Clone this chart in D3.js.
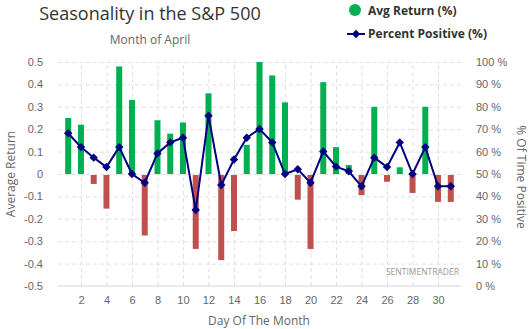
<!DOCTYPE html>
<html>
<head>
<meta charset="utf-8">
<script src="https://cdn.jsdelivr.net/npm/d3@7/dist/d3.min.js"></script>
<style>
  body { margin: 0; background: #fff; font-family: "Open Sans", sans-serif; }
  .grid line { stroke: #e0e0e0; stroke-dasharray: 4,3; }
  .grid path { display: none; }
  .lbl text { fill: #666; font-size: 11px; }
  .lbl path, .lbl line { display: none; }
</style>
</head>
<body>
<script>
// day of month, average return (%), percent of time positive
var days = [1,2,3,4,5,6,7,8,9,10,11,12,13,14,15,16,17,18,19,20,21,22,23,24,25,26,27,28,29,30,31];
var avgReturn = [0.25,0.22,-0.04,-0.15,0.48,0.33,-0.27,0.24,0.18,0.23,-0.33,0.36,-0.38,-0.25,0.13,
                 0.50,0.44,0.32,-0.11,-0.33,0.41,0.12,0.04,-0.09,0.30,-0.03,0.03,-0.08,0.30,-0.12,-0.12];
var pctPositive = [68.2,62,57.3,53.1,62,50,46.1,59.2,64.1,66.2,33.9,76,45.1,56.5,66.2,
                   70.1,64.1,50,52.1,46.1,60.1,53.3,51.2,44.5,57.3,53.1,64.1,50,62,44.5,44.5];

var xTicks = [2,4,6,8,10,12,14,16,18,20,22,24,26,28,30];
var yTicks = [-0.5,-0.4,-0.3,-0.2,-0.1,0,0.1,0.2,0.3,0.4,0.5];
var pctTicks = [0,10,20,30,40,50,60,70,80,90,100];

var width = 530, height = 329;
var margin = { left: 58, right: 461, top: 62, bottom: 286 };

var svg = d3.select("body").append("svg")
  .attr("width", width)
  .attr("height", height);

var x = d3.scaleLinear().domain([0.2, 31.8]).range([margin.left, margin.right]);
var y = d3.scaleLinear().domain([-0.5, 0.5]).range([margin.bottom, margin.top]);
var y2 = d3.scaleLinear().domain([0, 100]).range([margin.bottom, margin.top]);

// gridlines
svg.append("g")
  .attr("class", "grid")
  .attr("transform", "translate(" + margin.left + ",0)")
  .call(d3.axisLeft(y).tickValues(yTicks.filter(function(d) { return d > -0.5; }))
    .tickSize(-(margin.right - margin.left)).tickFormat(""));

svg.append("g")
  .attr("class", "grid")
  .attr("transform", "translate(0," + margin.bottom + ")")
  .call(d3.axisBottom(x).tickValues(xTicks).tickSize(-(margin.bottom - margin.top)).tickFormat(""));

// bars
svg.append("g").selectAll("rect")
  .data(days)
  .enter()
  .append("rect")
    .attr("x", function(d) { return x(d) - 3; })
    .attr("width", 6)
    .attr("y", function(d, i) { return avgReturn[i] >= 0 ? y(avgReturn[i]) : y(0) + 1; })
    .attr("height", function(d, i) { return Math.abs(y(avgReturn[i]) - y(0)); })
    .attr("fill", function(d, i) { return avgReturn[i] >= 0 ? "#00b050" : "#c0504d"; });

// x axis line
svg.append("line")
  .attr("x1", margin.left).attr("x2", margin.right)
  .attr("y1", margin.bottom).attr("y2", margin.bottom)
  .attr("stroke", "#ccd6eb");

// axis labels
svg.append("g")
  .attr("class", "lbl")
  .attr("transform", "translate(" + margin.left + ",0)")
  .call(d3.axisLeft(y).tickValues(yTicks).tickSize(0).tickPadding(15)
    .tickFormat(function(d) { return String(d); }));

svg.append("g")
  .attr("class", "lbl")
  .attr("transform", "translate(" + margin.right + ",0)")
  .call(d3.axisRight(y2).tickValues(pctTicks).tickSize(0).tickPadding(15)
    .tickFormat(function(d) { return d + " %"; }));

svg.append("g")
  .attr("class", "lbl")
  .attr("transform", "translate(0," + margin.bottom + ")")
  .call(d3.axisBottom(x).tickValues(xTicks).tickSize(0).tickPadding(10));

// percent positive line
var line = d3.line()
  .x(function(d, i) { return x(days[i]); })
  .y(function(d) { return y2(d); });

svg.append("path")
  .datum(pctPositive)
  .attr("d", line)
  .attr("fill", "none")
  .attr("stroke", "#000080")
  .attr("stroke-width", 2);

var diamond = d3.symbol().type(d3.symbolDiamond2).size(45);
svg.append("g").selectAll("path")
  .data(pctPositive)
  .enter()
  .append("path")
    .attr("d", diamond)
    .attr("transform", function(d, i) { return "translate(" + x(days[i]) + "," + y2(d) + ")"; })
    .attr("fill", "#000080");

// titles
svg.append("text")
  .attr("x", 150).attr("y", 20)
  .attr("text-anchor", "middle")
  .attr("font-size", 18).attr("fill", "#333")
  .text("Seasonality in the S&P 500");

svg.append("text")
  .attr("x", 150).attr("y", 44)
  .attr("text-anchor", "middle")
  .attr("font-size", 12).attr("fill", "#666")
  .text("Month of April");

svg.append("text")
  .attr("transform", "translate(15,174) rotate(-90)")
  .attr("text-anchor", "middle")
  .attr("font-size", 12).attr("fill", "#666")
  .text("Average Return");

svg.append("text")
  .attr("transform", "translate(517,177) rotate(90)")
  .attr("text-anchor", "middle")
  .attr("font-size", 12).attr("fill", "#666")
  .text("% Of Time Positive");

svg.append("text")
  .attr("x", 259).attr("y", 325)
  .attr("text-anchor", "middle")
  .attr("font-size", 12).attr("fill", "#666")
  .text("Day Of The Month");

svg.append("text")
  .attr("x", 459).attr("y", 275)
  .attr("text-anchor", "end")
  .attr("font-size", 8.5).attr("fill", "#999")
  .text("SENTIMENTRADER");

// legend
var legend = svg.append("g").attr("font-size", 12).attr("font-weight", "bold").attr("fill", "#333");
legend.append("circle").attr("cx", 355).attr("cy", 10).attr("r", 6).attr("fill", "#00b050");
legend.append("text").attr("x", 368).attr("y", 15).text("Avg Return (%)");
legend.append("line")
  .attr("x1", 347).attr("x2", 365).attr("y1", 34).attr("y2", 34)
  .attr("stroke", "#000080").attr("stroke-width", 2);
legend.append("path")
  .attr("d", diamond)
  .attr("transform", "translate(356,34)")
  .attr("fill", "#000080");
legend.append("text").attr("x", 368).attr("y", 38).text("Percent Positive (%)");
</script>
</body>
</html>
